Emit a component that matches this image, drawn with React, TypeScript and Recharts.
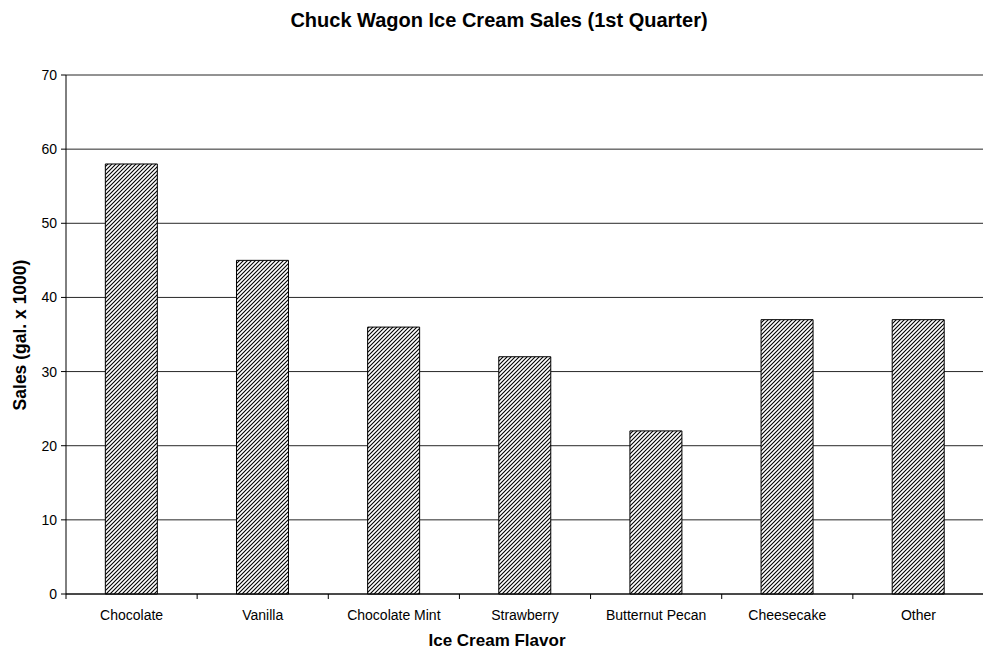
import { BarChart, Bar, XAxis, YAxis, CartesianGrid } from 'recharts'

const flavors = [
  'Chocolate',
  'Vanilla',
  'Chocolate Mint',
  'Strawberry',
  'Butternut Pecan',
  'Cheesecake',
  'Other',
]
const sales = [58, 45, 36, 32, 22, 37, 37]
const yTicks = [0, 10, 20, 30, 40, 50, 60, 70]

const data = flavors.map((flavor, i) => ({ flavor, sales: sales[i] }))

const W = 983
const H = 651
// plot runs off the right edge in the original screenshot
const margin = { top: 75, right: -1, bottom: 0, left: 0 }
const yAxisWidth = 66
const plotWidth = W - margin.left - margin.right - yAxisWidth
const band = plotWidth / flavors.length
const font = '"Liberation Sans", Arial, sans-serif'

function FlavorTick(props: any) {
  const { x, y, payload } = props
  const axisY = y - 8
  return (
    <g>
      <line x1={x - band / 2} y1={axisY} x2={x - band / 2} y2={axisY + 5} stroke="#000" />
      <text x={x} y={axisY + 26} textAnchor="middle" fontSize={14} fill="#000" fontFamily={font}>
        {payload.value}
      </text>
    </g>
  )
}

export default function App() {
  return (
    <div style={{ position: 'absolute', left: 0, top: 0, width: W, height: H, background: '#fff', overflow: 'hidden' }}>
      <BarChart width={W} height={H} data={data} margin={margin} barCategoryGap="30%">
        <defs>
          <pattern id="hatch" patternUnits="userSpaceOnUse" width={4} height={4}>
            <rect width={4} height={4} fill="#fff" />
            <path d="M-1,1 l2,-2 M0,4 l4,-4 M3,5 l2,-2" stroke="#000" strokeWidth={1.1} />
          </pattern>
        </defs>
        <text x={499} y={27} textAnchor="middle" fontSize={20} fontWeight="bold" fontFamily={font} fill="#000">
          Chuck Wagon Ice Cream Sales (1st Quarter)
        </text>
        <text x={497} y={646} textAnchor="middle" fontSize={17} fontWeight="bold" fontFamily={font} fill="#000">
          Ice Cream Flavor
        </text>
        <text
          x={26}
          y={335}
          transform="rotate(-90 26 335)"
          textAnchor="middle"
          fontSize={17.5}
          fontWeight="bold"
          fontFamily={font}
          fill="#000"
        >
          Sales (gal. x 1000)
        </text>
        <CartesianGrid vertical={false} stroke="#000" strokeOpacity={0.85} />
        <XAxis
          dataKey="flavor"
          height={57}
          axisLine={{ stroke: '#000' }}
          tickLine={false}
          tick={<FlavorTick />}
          interval={0}
        />
        <YAxis
          width={yAxisWidth}
          domain={[0, 70]}
          ticks={yTicks}
          interval={0}
          axisLine={{ stroke: '#000' }}
          tickLine={{ stroke: '#000' }}
          tickSize={5}
          tickMargin={4}
          tick={{ fontSize: 14, fill: '#000', fontFamily: font }}
        />
        <Bar dataKey="sales" fill="url(#hatch)" stroke="#000" strokeWidth={1} isAnimationActive={false} />
      </BarChart>
    </div>
  )
}
